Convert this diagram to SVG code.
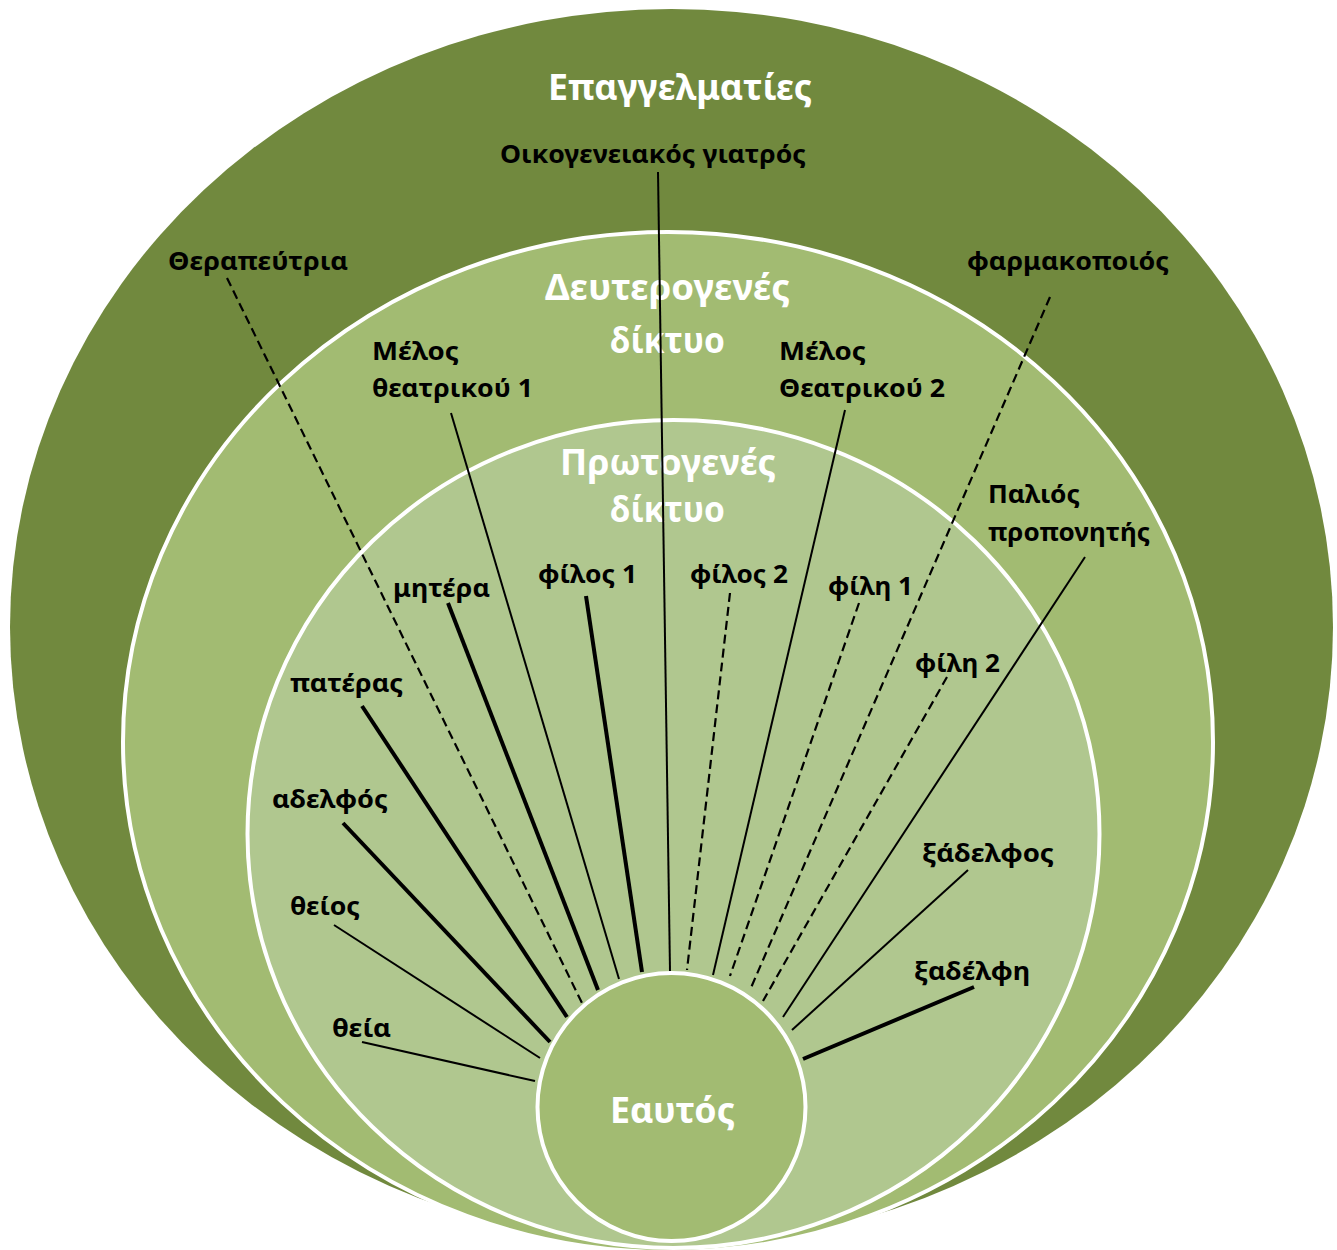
<svg xmlns="http://www.w3.org/2000/svg" width="1337" height="1250" viewBox="0 0 1337 1250">
  <style>
    .ring { stroke: #ffffff; stroke-width: 4; }
    .lbl { font-family: "Noto Sans", "Open Sans", "DejaVu Sans", sans-serif; font-weight: bold; font-size: 25px; fill: #000000; }
    .head { font-family: "Noto Sans", "Open Sans", "DejaVu Sans", sans-serif; font-weight: bold; font-size: 35px; fill: #ffffff; }
    .thick { stroke: #000000; stroke-width: 4; fill: none; }
    .thin { stroke: #000000; stroke-width: 2; fill: none; }
    .dash { stroke: #000000; stroke-width: 2.2; fill: none; stroke-dasharray: 9 5; }
  </style>

  <!-- nested network rings -->
  <g id="ring-professionals">
    <ellipse cx="671.5" cy="627" rx="661.5" ry="618" fill="#71893E"/>
    <text class="head" x="548" y="100" textLength="264" lengthAdjust="spacingAndGlyphs">Επαγγελματίες</text>
  </g>
  <g id="ring-secondary">
    <ellipse class="ring" cx="668" cy="742" rx="545" ry="510" fill="#A2BB72"/>
    <text class="head" x="545" y="300" textLength="245" lengthAdjust="spacingAndGlyphs">Δευτερογενές</text>
    <text class="head" x="610" y="353" textLength="115" lengthAdjust="spacingAndGlyphs">δίκτυο</text>
  </g>
  <g id="ring-primary">
    <ellipse class="ring" cx="673.5" cy="834" rx="426" ry="414" fill="#B0C78F"/>
    <text class="head" x="560" y="475" textLength="216" lengthAdjust="spacingAndGlyphs">Πρωτογενές</text>
    <text class="head" x="610" y="522" textLength="115" lengthAdjust="spacingAndGlyphs">δίκτυο</text>
  </g>

  <!-- ties from each person to the self -->
  <g id="connectors">
    <line class="thin" x1="658" y1="172" x2="670" y2="971"/>
    <line class="dash" x1="227" y1="278" x2="582" y2="1003"/>
    <line class="thin" x1="451" y1="413" x2="619" y2="979"/>
    <line class="thin" x1="845" y1="410" x2="713" y2="975"/>
    <line class="dash" x1="1050" y1="297" x2="750" y2="990"/>
    <line class="thin" x1="1085" y1="557" x2="783" y2="1017"/>
    <line class="thick" x1="448" y1="603" x2="598" y2="990"/>
    <line class="thick" x1="586" y1="596" x2="642" y2="972"/>
    <line class="dash" x1="730" y1="593" x2="687" y2="970"/>
    <line class="dash" x1="859" y1="603" x2="730" y2="976"/>
    <line class="dash" x1="947" y1="677" x2="763" y2="1001"/>
    <line class="thick" x1="362" y1="706" x2="567" y2="1017"/>
    <line class="thick" x1="343" y1="823" x2="550" y2="1042"/>
    <line class="thin" x1="334" y1="925" x2="540" y2="1058"/>
    <line class="thin" x1="362" y1="1042" x2="535" y2="1081"/>
    <line class="thin" x1="968" y1="870" x2="792" y2="1030"/>
    <line class="thick" x1="974" y1="987" x2="803" y2="1059"/>
  </g>

  <!-- people -->
  <g id="n-doctor"><text class="lbl" x="500" y="163" textLength="306" lengthAdjust="spacingAndGlyphs">Οικογενειακός γιατρός</text></g>
  <g id="n-therapist"><text class="lbl" x="168" y="270" textLength="180" lengthAdjust="spacingAndGlyphs">Θεραπεύτρια</text></g>
  <g id="n-pharmacist"><text class="lbl" x="967" y="270" textLength="202" lengthAdjust="spacingAndGlyphs">φαρμακοποιός</text></g>
  <g id="n-theatre1">
    <text class="lbl" x="372" y="360" textLength="87" lengthAdjust="spacingAndGlyphs">Μέλος</text>
    <text class="lbl" x="372" y="397" textLength="161" lengthAdjust="spacingAndGlyphs">θεατρικού 1</text>
  </g>
  <g id="n-theatre2">
    <text class="lbl" x="779" y="360" textLength="87" lengthAdjust="spacingAndGlyphs">Μέλος</text>
    <text class="lbl" x="779" y="397" textLength="166" lengthAdjust="spacingAndGlyphs">Θεατρικού 2</text>
  </g>
  <g id="n-coach">
    <text class="lbl" x="988" y="503" textLength="92" lengthAdjust="spacingAndGlyphs">Παλιός</text>
    <text class="lbl" x="988" y="541" textLength="162" lengthAdjust="spacingAndGlyphs">προπονητής</text>
  </g>
  <g id="n-mother"><text class="lbl" x="393" y="597" textLength="97" lengthAdjust="spacingAndGlyphs">μητέρα</text></g>
  <g id="n-friend1"><text class="lbl" x="538" y="583" textLength="99" lengthAdjust="spacingAndGlyphs">φίλος 1</text></g>
  <g id="n-friend2"><text class="lbl" x="690" y="583" textLength="98" lengthAdjust="spacingAndGlyphs">φίλος 2</text></g>
  <g id="n-girlfriend1"><text class="lbl" x="828" y="595" textLength="85" lengthAdjust="spacingAndGlyphs">φίλη 1</text></g>
  <g id="n-girlfriend2"><text class="lbl" x="915" y="672" textLength="85" lengthAdjust="spacingAndGlyphs">φίλη 2</text></g>
  <g id="n-father"><text class="lbl" x="290" y="692" textLength="113" lengthAdjust="spacingAndGlyphs">πατέρας</text></g>
  <g id="n-brother"><text class="lbl" x="272" y="808" textLength="116" lengthAdjust="spacingAndGlyphs">αδελφός</text></g>
  <g id="n-cousin-m"><text class="lbl" x="922" y="862" textLength="132" lengthAdjust="spacingAndGlyphs">ξάδελφος</text></g>
  <g id="n-uncle"><text class="lbl" x="290" y="915" textLength="70" lengthAdjust="spacingAndGlyphs">θείος</text></g>
  <g id="n-cousin-f"><text class="lbl" x="914" y="980" textLength="116" lengthAdjust="spacingAndGlyphs">ξαδέλφη</text></g>
  <g id="n-aunt"><text class="lbl" x="332" y="1037" textLength="59" lengthAdjust="spacingAndGlyphs">θεία</text></g>

  <!-- the self at the centre of the network -->
  <g id="n-self">
    <circle class="ring" cx="671.5" cy="1107" r="134" fill="#A2BB72"/>
    <text class="head" x="610" y="1123" textLength="125" lengthAdjust="spacingAndGlyphs">Εαυτός</text>
  </g>
</svg>
